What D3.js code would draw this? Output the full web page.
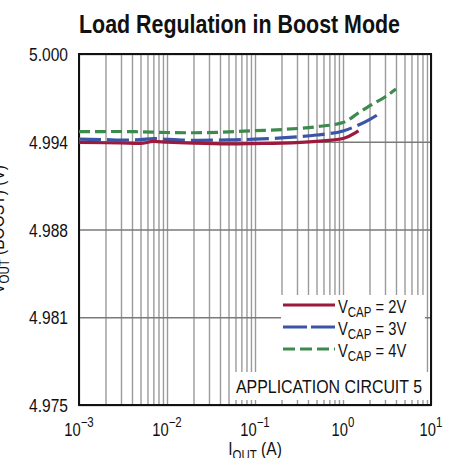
<!DOCTYPE html>
<html>
<head>
<meta charset="utf-8">
<script src="https://cdn.jsdelivr.net/npm/d3@7"></script>
<style>
  html, body { margin: 0; padding: 0; background: #fff; }
  svg text { font-family: "Liberation Sans", Arial, sans-serif; fill: #111; }
</style>
</head>
<body>
<div id="chart"></div>
<script>
// load current (A) and output voltage (V)
const iout2V = [0.001, 0.002, 0.003, 0.005, 0.007, 0.01, 0.02, 0.05, 0.1, 0.2, 0.5, 1, 1.5];
const vout2V = [4.99370, 4.99368, 4.99366, 4.99363, 4.99377, 4.99372, 4.99365, 4.99360, 4.99362, 4.99365, 4.99378, 4.99398, 4.99452];

const iout3V = [0.001, 0.002, 0.003, 0.005, 0.007, 0.01, 0.02, 0.05, 0.1, 0.2, 0.5, 1, 1.5, 2, 2.5];
const vout3V = [4.99394, 4.99390, 4.99387, 4.99390, 4.99398, 4.99392, 4.99385, 4.99388, 4.99393, 4.99402, 4.99423, 4.99452, 4.99494, 4.99533, 4.99569];

const iout4V = [0.001, 0.003, 0.005, 0.01, 0.02, 0.05, 0.1, 0.2, 0.5, 1, 1.5, 2, 3, 4];
const vout4V = [4.99447, 4.99448, 4.99446, 4.99441, 4.99439, 4.99445, 4.99454, 4.99462, 4.99482, 4.99512, 4.99580, 4.99630, 4.99694, 4.99751];

const seriesNames = ["2V", "3V", "4V"];
const xDecades = [-3, -2, -1, 0, 1];
const yTickValues = [4.975, 4.98125, 4.9875, 4.99375, 5.000];
const yTickLabels = ["4.975", "4.981", "4.988", "4.994", "5.000"];

const W = 455, H = 458;
const plot = { left: 79, right: 431, top: 54, bottom: 405 };
const narrow = 0.82; // squeeze Liberation Sans toward a condensed face

const svg = d3.select('#chart').append('svg')
  .attr('width', W)
  .attr('height', H);

const x = d3.scaleLog().domain([1e-3, 10]).range([plot.left, plot.right]);
const y = d3.scaleLinear().domain([4.975, 5.000]).range([plot.bottom, plot.top]);

// condensed text helper: group at (px,py), squeezed horizontally
function label(px, py, extra) {
  return svg.append('g')
    .attr('transform', `translate(${px},${py}) ${extra || ''} scale(${narrow},1)`)
    .append('text');
}

// grid: decades plus 2..9 minors
let gridX = [];
xDecades.slice(0, -1).forEach(d => {
  for (let m = 2; m <= 9; m++) gridX.push(m * Math.pow(10, d));
});

svg.append('g')
  .attr('transform', `translate(0,${plot.bottom})`)
  .call(d3.axisBottom(x).tickValues(gridX.concat(xDecades.map(d => Math.pow(10, d)))).tickSize(-(plot.bottom - plot.top)).tickFormat(''))
  .call(g => g.select('.domain').remove())
  .call(g => g.selectAll('line').attr('stroke', '#9a9a9a').attr('stroke-width', 1.4));

svg.append('g')
  .attr('transform', `translate(${plot.left},0)`)
  .call(d3.axisLeft(y).tickValues(yTickValues).tickSize(-(plot.right - plot.left)).tickFormat(''))
  .call(g => g.select('.domain').remove())
  .call(g => g.selectAll('line').attr('stroke', '#7a7a7a').attr('stroke-width', 1.4));

// white boxes behind legend and label
svg.append('rect').attr('x', 281).attr('y', 295).attr('width', 144).attr('height', 78).attr('fill', '#fff');
svg.append('rect').attr('x', 232).attr('y', 372).attr('width', 197).attr('height', 28).attr('fill', '#fff');

// frame
svg.append('rect')
  .attr('x', plot.left).attr('y', plot.top)
  .attr('width', plot.right - plot.left).attr('height', plot.bottom - plot.top)
  .attr('fill', 'none').attr('stroke', '#111').attr('stroke-width', 2);

// y tick labels
yTickValues.forEach((v, i) => {
  label(plot.left - 11, y(v) + 7)
    .attr('text-anchor', 'end')
    .style('font-size', '19px')
    .text(yTickLabels[i]);
});

// x tick labels 10^n
xDecades.forEach(d => {
  const t = label(x(Math.pow(10, d)), 436)
    .attr('text-anchor', 'middle')
    .style('font-size', '18px');
  t.append('tspan').text('10');
  t.append('tspan').attr('dy', -9).style('font-size', '14px').text(d < 0 ? '\u2212' + (-d) : d);
});

// axis titles
const xt = label(255, 455).attr('text-anchor', 'middle').style('font-size', '19px');
xt.append('tspan').text('I');
xt.append('tspan').attr('dy', 5).style('font-size', '14px').text('OUT');
xt.append('tspan').attr('dy', -5).text(' (A)');

const yt = label(4, (plot.top + plot.bottom) / 2, 'rotate(-90)').attr('text-anchor', 'middle').style('font-size', '19px');
yt.append('tspan').text('V');
yt.append('tspan').attr('dy', 5).style('font-size', '14px').text('OUT');
yt.append('tspan').attr('dy', -5).text(' (BOOST) (V)');

// title
svg.append('text')
  .attr('x', 79).attr('y', 33)
  .attr('textLength', 321)
  .attr('lengthAdjust', 'spacingAndGlyphs')
  .style('font-size', '25px')
  .style('font-weight', 'bold')
  .text('Load Regulation in Boost Mode');

// curves
const series = [
  { name: seriesNames[0], xs: iout2V, ys: vout2V, color: '#9c1a3c', dash: null },
  { name: seriesNames[1], xs: iout3V, ys: vout3V, color: '#3a55a6', dash: '22,6' },
  { name: seriesNames[2], xs: iout4V, ys: vout4V, color: '#3c8a4c', dash: '11,5' }
];

const line = d3.line()
  .x(d => x(d[0]))
  .y(d => y(d[1]))
  .curve(d3.curveMonotoneX);

series.slice().reverse().forEach(s => {
  svg.append('path')
    .datum(s.xs.map((v, i) => [v, s.ys[i]]))
    .attr('d', line)
    .attr('fill', 'none')
    .attr('stroke', s.color)
    .attr('stroke-width', 3.2)
    .attr('stroke-dasharray', s.dash);
});

// legend
series.forEach((s, i) => {
  const ly = 305 + i * 22;
  svg.append('line')
    .attr('x1', 283).attr('x2', 335)
    .attr('y1', ly).attr('y2', ly)
    .attr('stroke', s.color)
    .attr('stroke-width', 3)
    .attr('stroke-dasharray', i === 1 ? '24,4' : i === 2 ? '12,5' : null);
  const t = label(338, ly + 8).style('font-size', '18px');
  t.append('tspan').text('V');
  t.append('tspan').attr('dy', 4).style('font-size', '14px').text('CAP');
  t.append('tspan').attr('dy', -4).text(' = ' + s.name);
});

svg.append('text')
  .attr('x', 236).attr('y', 393)
  .attr('textLength', 186)
  .attr('lengthAdjust', 'spacingAndGlyphs')
  .style('font-size', '19px')
  .text('APPLICATION CIRCUIT 5');
</script>
</body>
</html>
